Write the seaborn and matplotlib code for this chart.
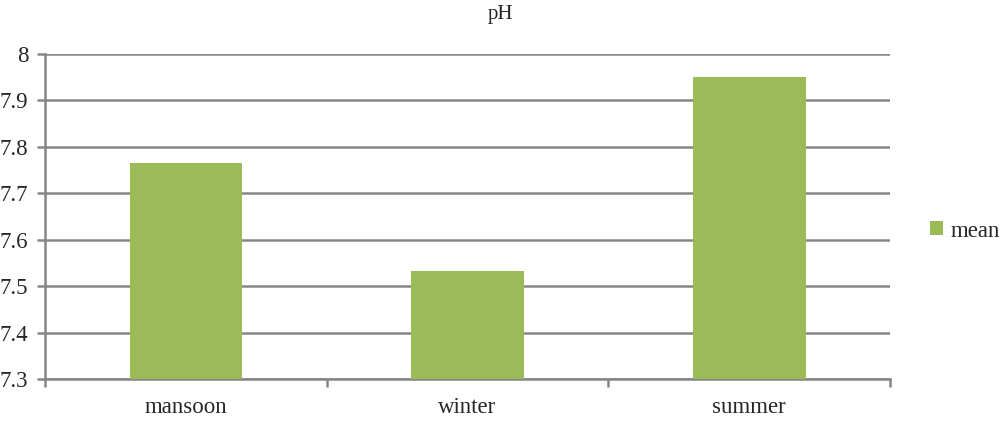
import pandas as pd
import matplotlib.pyplot as plt
import seaborn as sns
from matplotlib.patches import Patch

seasons = ['mansoon', 'winter', 'summer']
mean_ph = [7.765, 7.533, 7.95]

df = pd.DataFrame({'season': seasons, 'mean': mean_ph})

sns.set_style('white')
plt.rcParams['font.family'] = ['Liberation Serif', 'DejaVu Serif']

fig = plt.figure(figsize=(10.01, 4.22), dpi=100)
ax = fig.add_axes([45 / 1001, 1 - 379 / 422, 845 / 1001, 325 / 422])

green = '#9BBB59'
grid_c = '#868686'

sns.barplot(data=df, x='season', y='mean', color=green, width=0.4,
            saturation=1, ax=ax, zorder=3, edgecolor='none', linewidth=0)

ax.set_ylim(7.3, 8.0)
ax.set_xlim(-0.5, 2.5)
ax.set_yticks([7.3 + 0.1 * i for i in range(8)])
ax.set_yticklabels(['7.3', '7.4', '7.5', '7.6', '7.7', '7.8', '7.9', '8'])
ax.yaxis.grid(True, color=grid_c, linewidth=1.8, zorder=0)
ax.set_axisbelow(True)

# ticks sit between the categories, labels centred under bars
ax.set_xticks([-0.5, 0.5, 1.5, 2.5], minor=True)
ax.tick_params(axis='x', which='major', length=0, pad=13, labelsize=16.5)
ax.tick_params(axis='x', which='minor', length=6, width=1.8, color=grid_c, direction='out')
ax.tick_params(axis='y', length=6, width=1.8, color=grid_c, direction='out', pad=6, labelsize=16.5)
ax.tick_params(bottom=True, left=True, which='both')

for side in ['top', 'right']:
    ax.spines[side].set_visible(False)
for side in ['left', 'bottom']:
    ax.spines[side].set_color(grid_c)
    ax.spines[side].set_linewidth(1.8)

ax.set_xlabel('')
ax.set_ylabel('')
fig.text(0.5, 1 - 14 / 422, 'pH', ha='center', va='center', fontsize=15)

handles = [Patch(facecolor=green, edgecolor='none', label='mean')]
fig.legend(handles=handles, loc='center left', bbox_to_anchor=(930 / 1001, 1 - 231 / 422),
           frameon=False, fontsize=16.5, handlelength=0.55, handleheight=0.55,
           handletextpad=0.35, borderpad=0, borderaxespad=0)

fig.savefig('out.png', dpi=100)
